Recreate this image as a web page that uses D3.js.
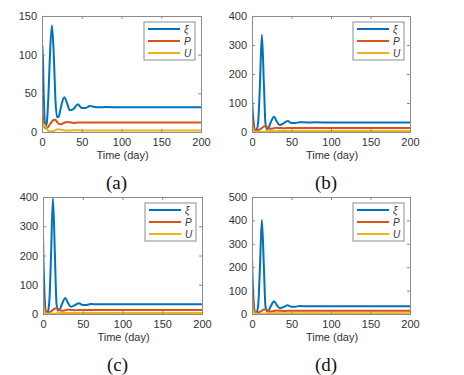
<!DOCTYPE html>
<html>
<head>
<meta charset="utf-8">
<script src="https://cdn.jsdelivr.net/npm/d3@7"></script>
<style>
  body { margin: 0; background: #fff; }
  svg text { font-family: "Liberation Sans", Arial, sans-serif; }
</style>
</head>
<body>
<script>
// time samples (days), shared by all panels
const T = [0, 0.7, 2, 4, 6, 8, 10, 12.5, 15, 17, 19, 21, 24, 28, 31, 35, 40, 45, 50, 55, 60, 70, 80, 100, 150, 200];

// panel (a)
const xiA = [60, 112, 55, 6, 12, 45, 100, 138, 95, 40, 19, 20, 33, 45, 39, 28, 30, 36, 31, 31, 33.5, 32, 32.3, 32, 32, 32];
const pA  = [32, 25, 12, 5, 5, 7, 10, 13.5, 16, 15.5, 13, 10.5, 10, 12, 13, 12.5, 11.8, 12.2, 12.3, 12.2, 12.3, 12.3, 12.3, 12.3, 12.3, 12.3];
const uA  = [3, 7, 10, 8, 4, 1.5, 1, 1, 1.3, 2.5, 3.3, 3.5, 2.8, 2, 1.8, 2, 2.2, 2.2, 2.1, 2.1, 2.1, 2.1, 2.1, 2.1, 2.1, 2.1];

// panel (b)
const xiB = [120, 80, 35, 5, 8, 40, 160, 335, 170, 30, 10, 15, 35, 53, 38, 24, 30, 38, 31, 31, 34, 33, 33.3, 33, 33, 33];
const pB  = [62, 40, 15, 5, 4, 6, 9, 14, 19, 20, 17, 13, 11, 13, 14.5, 14, 13, 13.5, 13.5, 13.4, 13.5, 13.5, 13.5, 13.5, 13.5, 13.5];
const uB  = [30, 15, 5, 2, 1, 0.5, 0.5, 0.5, 1, 2, 3.5, 4, 3.5, 3, 3, 3.2, 3.2, 3.2, 3.2, 3.2, 3.2, 3.2, 3.2, 3.2, 3.2, 3.2];

// panel (c)
const xiC = [270, 170, 60, 5, 8, 45, 190, 395, 200, 35, 12, 15, 35, 55, 40, 25, 30, 37, 31, 31, 34, 33, 33.3, 33, 33, 33];
const pC  = [92, 55, 18, 4, 4, 6, 9, 14, 19, 20, 17, 13, 11, 13, 14.5, 14, 13, 13.5, 13.5, 13.4, 13.5, 13.5, 13.5, 13.5, 13.5, 13.5];
const uC  = [60, 25, 6, 2, 1, 0.5, 0.5, 0.5, 1, 2, 3.5, 4, 3.5, 3, 3, 3.2, 3.2, 3.2, 3.2, 3.2, 3.2, 3.2, 3.2, 3.2, 3.2, 3.2];

// panel (d)
const xiD = [240, 150, 55, 5, 8, 45, 195, 402, 205, 35, 12, 15, 35, 55, 40, 25, 30, 37, 31, 31, 34, 33, 33.3, 33, 33, 33];
const pD  = [120, 70, 22, 4, 4, 6, 9, 14, 19, 20, 17, 13, 11, 13, 14.5, 14, 13, 13.5, 13.5, 13.4, 13.5, 13.5, 13.5, 13.5, 13.5, 13.5];
const uD  = [90, 35, 8, 2, 1, 0.5, 0.5, 0.5, 1, 2, 3.5, 4, 3.5, 3, 3, 3.2, 3.2, 3.2, 3.2, 3.2, 3.2, 3.2, 3.2, 3.2, 3.2, 3.2];

const xTicks = [0, 50, 100, 150, 200];
const yTicksA = [0, 50, 100, 150];
const yTicksB = [0, 100, 200, 300, 400];
const yTicksC = [0, 100, 200, 300, 400];
const yTicksD = [0, 100, 200, 300, 400, 500];

const seriesNames = ["\u03BE", "P", "U"];
const colors = ["#0072BD", "#D95319", "#EDB120"];

const panels = [
  {label: "(a)", series: [xiA, pA, uA], yMax: 150, yTicks: yTicksA, box: [42, 201, 16, 132]},
  {label: "(b)", series: [xiB, pB, uB], yMax: 400, yTicks: yTicksB, box: [252, 410, 16, 132]},
  {label: "(c)", series: [xiC, pC, uC], yMax: 400, yTicks: yTicksC, box: [43, 202, 197, 314]},
  {label: "(d)", series: [xiD, pD, uD], yMax: 500, yTicks: yTicksD, box: [252, 410, 197, 314]}
];

const width = 464, height = 375;
const svg = d3.select("body").append("svg")
  .attr("width", width)
  .attr("height", height);

const axisColor = "#8c8c8c";
const textColor = "#333";

panels.forEach((p, k) => {
  const [x0, x1, y0, y1] = p.box;
  const x = d3.scaleLinear().domain([0, 200]).range([x0, x1]);
  const y = d3.scaleLinear().domain([0, p.yMax]).range([y1, y0]);
  const g = svg.append("g");

  // clip
  const cid = "clip" + k;
  svg.append("clipPath").attr("id", cid)
    .append("rect").attr("x", x0).attr("y", y0).attr("width", x1 - x0).attr("height", y1 - y0);

  // lines
  const line = d3.line()
    .x((d, i) => x(T[i]))
    .y(d => y(d))
    .curve(d3.curveMonotoneX);
  // draw yellow first, blue on top like matlab order reversed? matlab draws in order, last on top
  p.series.forEach((s, i) => {
    g.append("path")
      .attr("clip-path", `url(#${cid})`)
      .attr("d", line(s))
      .attr("fill", "none")
      .attr("stroke", colors[i])
      .attr("stroke-width", 2);
  });

  // axes (ticks inside, mirrored on top and right)
  const bottom = g.append("g").attr("transform", `translate(0,${y1})`)
    .call(d3.axisBottom(x).tickValues(xTicks).tickSize(-3).tickPadding(6));
  const top = g.append("g").attr("transform", `translate(0,${y0})`)
    .call(d3.axisTop(x).tickValues(xTicks).tickSize(-3).tickFormat(""));
  const left = g.append("g").attr("transform", `translate(${x0},0)`)
    .call(d3.axisLeft(y).tickValues(p.yTicks).tickSize(-3).tickPadding(5));
  const right = g.append("g").attr("transform", `translate(${x1},0)`)
    .call(d3.axisRight(y).tickValues(p.yTicks).tickSize(-3).tickFormat(""));
  [bottom, top, left, right].forEach(a => {
    a.select(".domain").attr("stroke", axisColor);
    a.selectAll(".tick line").attr("stroke", axisColor);
    a.selectAll("text").attr("fill", textColor).style("font-size", "11px")
      .style("font-family", "'Liberation Sans', Arial, sans-serif");
  });

  // x label
  g.append("text")
    .attr("x", (x0 + x1) / 2 + 1)
    .attr("y", y1 + 27)
    .attr("text-anchor", "middle")
    .attr("fill", textColor)
    .style("font-size", "11px")
    .text("Time (day)");

  // panel label
  g.append("text")
    .attr("x", (x0 + x1) / 2 - 5)
    .attr("y", y1 + 57)
    .attr("text-anchor", "middle")
    .attr("fill", "#111")
    .style("font-family", "'Liberation Serif', 'Times New Roman', serif")
    .style("font-size", "19px")
    .text(p.label);

  // legend
  const lx = x1 - 57, ly = y0 + 6, lw = 51, lh = 38;
  const leg = g.append("g");
  leg.append("rect")
    .attr("x", lx).attr("y", ly).attr("width", lw).attr("height", lh)
    .attr("fill", "#fff").attr("stroke", axisColor).attr("stroke-width", 1);
  seriesNames.forEach((n, i) => {
    const yy = ly + 7 + i * 12;
    leg.append("line")
      .attr("x1", lx + 4).attr("x2", lx + 36)
      .attr("y1", yy).attr("y2", yy)
      .attr("stroke", colors[i]).attr("stroke-width", 2);
    leg.append("text")
      .attr("x", lx + 40).attr("y", yy + 3.5)
      .attr("fill", textColor)
      .style("font-size", "10px")
      .style("font-style", "italic")
      .text(n);
  });
});
</script>
</body>
</html>
